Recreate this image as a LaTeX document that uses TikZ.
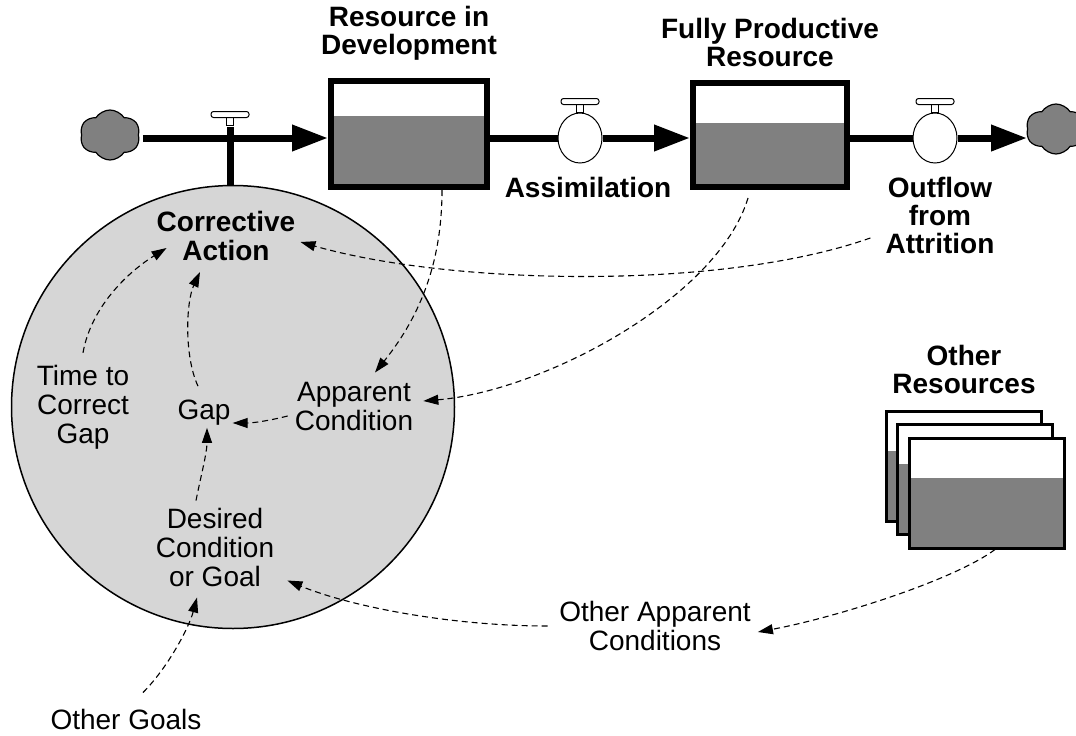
\documentclass[tikz,border=0pt]{standalone}
\usepackage{fontspec}
\setmainfont{Liberation Sans}
\usepackage{tikz}
\usetikzlibrary{shapes,arrows,positioning,calc,arrows.meta}
\definecolor{policyfill}{RGB}{214,214,214}
\definecolor{levelfill}{RGB}{128,128,128}

\begin{document}
\begin{tikzpicture}[x=1pt, y=-1pt,
        stock/.style={rectangle, draw=black, line width=6pt, fill=white, inner sep=0pt, minimum width=156pt, minimum height=106pt,
          path picture={\fill[levelfill] ($(path picture bounding box.north west)!#1!(path picture bounding box.south west)$) rectangle (path picture bounding box.south east);}},
        othstock/.style={stock=#1, line width=3pt, minimum width=155pt, minimum height=110pt},
        policy/.style={circle, draw=black, line width=1.5pt, fill=policyfill, minimum size=443pt, inner sep=0pt},
        valve/.style={ellipse, draw=black, line width=1pt, fill=white, minimum width=44pt, minimum height=50pt, inner sep=0pt},
        sourcesink/.style={shape=cloud, cloud puffs=6, cloud puff arc=115, aspect=1.2, draw=black, line width=1.2pt, fill=levelfill, minimum width=60pt, minimum height=50pt, inner sep=0pt},
        handle/.style={draw=black, line width=1pt, fill=white},
        pipe/.style={draw=black, line width=7pt},
        flowtip/.style={-{Triangle[length=36pt,width=25pt]}},
        link/.style={-{Triangle[length=15pt,width=10pt]}, line width=1.1pt, dash pattern=on 6pt off 4pt},
        var/.style={font=\fontsize{28}{29}\selectfont, align=center, inner sep=2pt},
        title/.style={font=\bfseries\fontsize{28}{28}\selectfont, align=center, inner sep=0pt},
      ]
      \useasboundingbox (0,0) rectangle (1076,736);
      \node [policy] (policy) at (233,407) {};
      \node [stock=0.33] (dev) at (409,134) {};
      \node [stock=0.385, minimum width=154pt, minimum height=104pt] (prod) at (770,135) {};
      \node [title, above=17pt of dev] (devlab) {Resource in\\Development};
      \node [title, above=13pt of prod] (prodlab) {Fully Productive\\Resource};
      \node [sourcesink] (source) at (110,135) {};
      \node [sourcesink] (sink) at (1056,129) {};
      \node [inner sep=0pt, outer sep=0pt] (ctrlv) at (230,126) {};
      \node [valve] (assimv) at (580,138) {};
      \node [valve] (outv) at (935,138) {};
      \draw [pipe] (ctrlv.south) -- (ctrlv.south |- policy.north);
      \draw [pipe, flowtip] ([xshift=4pt]source.east |- assimv.west) -- (dev.west |- assimv.west);
      \draw [pipe] (dev.east |- assimv.west) -- (assimv.west);
      \draw [pipe, flowtip] (assimv.east) -- (prod.west |- assimv.east);
      \draw [pipe] (prod.east |- outv.west) -- (outv.west);
      \draw [pipe, flowtip] (outv.east) -- (sink.west |- outv.east);
      \foreach \v in {ctrlv,assimv,outv} {
        \draw [handle] ([xshift=-3.5pt]\v.north) rectangle ([xshift=3.5pt, yshift=8pt]\v.north);
        \draw [handle, rounded corners=2.5pt] ([xshift=-19pt, yshift=8pt]\v.north) rectangle ([xshift=19pt, yshift=14pt]\v.north);
      }
      \node [title, below=14pt of assimv, xshift=8pt] (assimlab) {Assimilation};
      \node [title, below=14pt of outv, xshift=5pt] (outlab) {Outflow\\from\\Attrition};
      \node [var, font=\bfseries\fontsize{28}{29}\selectfont] (action) at (226,236) {Corrective\\Action};
      \node [var] (timegap) at (83,407) {Time to\\Correct\\Gap};
      \node [var] (gap) at (204,413) {Gap};
      \node [var] (apparent) at (354,406) {Apparent\\Condition};
      \node [var] (desired) at (215,547) {Desired\\Condition\\or Goal};
      \node [var] (othergoals) at (126,719) {Other Goals};
      \node [var] (otherapp) at (655,626) {Other Apparent\\Conditions};
      \node [othstock=0.36] (othres3) at (964,466) {};
      \node [othstock=0.36] (othres2) at (975,479) {};
      \node [othstock=0.36] (othres1) at (987,493) {};
      \node [title, above=16pt of othres3] (othreslab) {Other\\Resources};
      \draw [link] ([yshift=10pt]timegap.north) .. controls +(8,-45) and +(-40,25) .. ([shift={(12pt,-12pt)}]action.west);
      \draw [link] ([shift={(-6pt,12pt)}]gap.north) .. controls +(-14,-30) and +(-14,30) .. ([shift={(-26pt,-9pt)}]action.south);
      \draw [link] ([shift={(-5pt,-10pt)}]apparent.west) .. controls +(-20,5) and +(20,0) .. ([yshift=-10pt]gap.east);
      \draw [link] ([shift={(-19pt,5pt)}]desired.north) .. controls +(5,-25) and +(0,25) .. ([xshift=3pt]gap.south);
      \draw [link] ([shift={(17pt,14pt)}]othergoals.north) .. controls +(25,-25) and +(-8,30) .. ([shift={(-18pt,-9pt)}]desired.south);
      \draw [link] ([xshift=-9.5pt]otherapp.west) .. controls +(-100,0) and +(60,25) .. ([shift={(11pt,8pt)}]desired.south east);
      \draw [link] ([xshift=8pt]othres1.south) .. controls +(-40,30) and +(80,-15) .. ([shift={(5pt,-6pt)}]otherapp.east);
      \draw [link] ([xshift=33pt]dev.south) .. controls +(0,80) and +(40,-50) .. ([shift={(21pt,7pt)}]apparent.north);
      \draw [link] ([shift={(-22pt,-8pt)}]prod.south) .. controls +(-30,100) and +(120,-10) .. ([shift={(8pt,5pt)}]apparent.east);
      \draw [link] ([shift={(-15pt,-22pt)}]outlab.west) .. controls +(-150,53) and +(150,43) .. ([shift={(3pt,-6pt)}]action.east);
    \end{tikzpicture}
\end{document}
